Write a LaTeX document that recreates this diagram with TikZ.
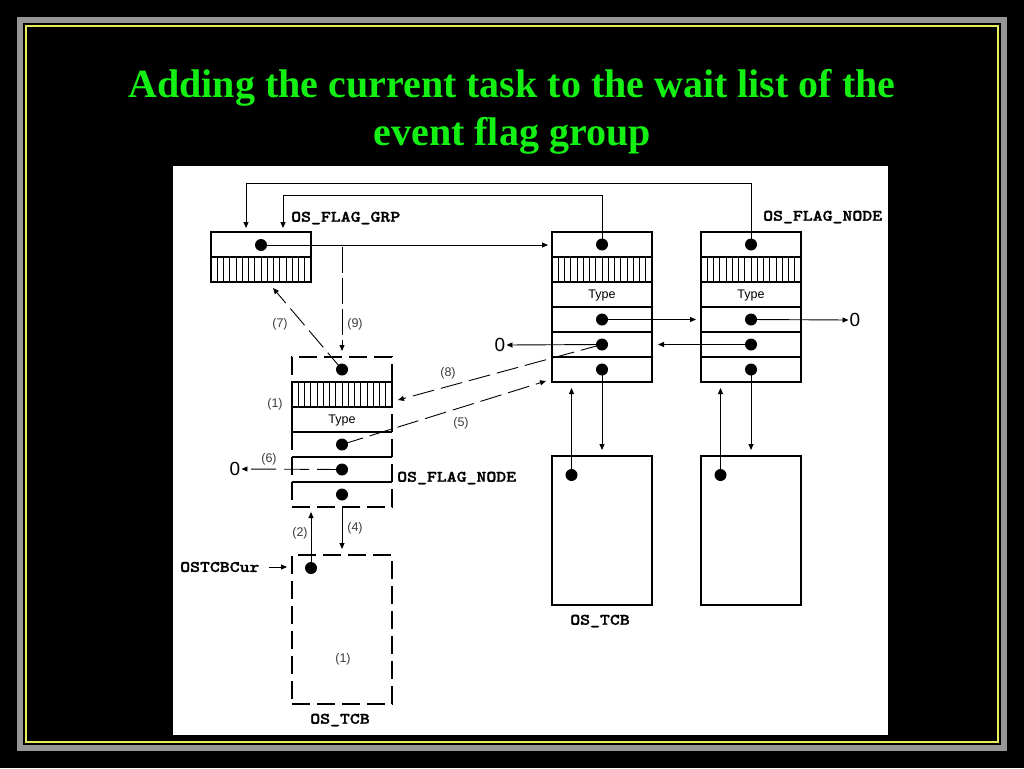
\documentclass[tikz,border=0pt]{standalone}
\usepackage{fontspec}
\setmainfont{Liberation Serif}
\newfontfamily\labfont[FakeStretch=1.18,FakeBold=1.6]{lmmonolt10-bold.otf}
\newfontfamily\sansf{Liberation Sans}
\usetikzlibrary{arrows.meta,calc}
\definecolor{titlegreen}{RGB}{20,240,20}
\definecolor{framegray}{RGB}{150,150,150}
\definecolor{frameyellow}{RGB}{235,235,90}
\definecolor{numgray}{RGB}{60,60,60}
\tikzset{
  box/.style={draw, line width=1.1pt, inner sep=0pt, outer sep=0pt},
  dbox/.style={draw, line width=1.1pt, dash pattern=on 18pt off 7pt, inner sep=0pt, outer sep=0pt},
  dot/.style={circle, fill=black, minimum size=12pt, inner sep=0pt},
  arr/.style={line width=0.9pt, -{Triangle[length=6pt,width=5pt]}},
  darr/.style={line width=0.9pt, dash pattern=on 22pt off 7pt, -{Triangle[length=6pt,width=5pt]}},
  lab/.style={font=\labfont\fontsize{16}{18}\selectfont, inner sep=0pt},
  num/.style={font=\sansf\fontsize{12.5}{14}\selectfont, text=numgray, inner sep=0pt},
  typ/.style={font=\sansf\fontsize{12.5}{14}\selectfont, inner sep=0pt},
  zero/.style={font=\sansf\fontsize{19}{21}\selectfont, inner sep=1pt},
  hatch/.style={line width=0.7pt}
}
\begin{document}
\begin{tikzpicture}[x=1pt,y=-1pt]
% background and frame
\fill[black] (0,0) rectangle (1024,768);
\useasboundingbox (0,0) rectangle (1024,768);
\draw[framegray, line width=6pt] (20,20) rectangle (1004,748);
\draw[frameyellow, line width=1.3pt] (26,26) rectangle (998,742);
\fill[white] (173,166) rectangle (888,735);
% title
\node[anchor=base, font=\bfseries\fontsize{40}{48}\selectfont, text=titlegreen, inner sep=0pt] (t1) at (512,97) {Adding the current task to the wait list of the};
\node[anchor=base, font=\bfseries\fontsize{40}{48}\selectfont, text=titlegreen, inner sep=0pt] (t2) at (512,145) {event flag group};

% ---------- OS_FLAG_GRP ----------
\node[box, minimum width=100pt, minimum height=50pt] (grp) at (261,257) {};
\draw[line width=1.1pt] (211,257) -- (311,257);
\foreach \k in {1,...,15} \draw[hatch] ({211+\k*6.25},257) -- ({211+\k*6.25},282);
\node[dot] (gdot) at (261,245) {};
\node[lab, anchor=west] (lgrp) at (291,218) {OS\_FLAG\_GRP};

% ---------- OS_FLAG_NODE 1 ----------
\node[box, minimum width=100pt, minimum height=150pt] (n1) at (602,307) {};
\foreach \y in {257,282,307,332,357} \draw[line width=1.1pt] (552,\y) -- (652,\y);
\foreach \k in {1,...,15} \draw[hatch] ({552+\k*6.25},257) -- ({552+\k*6.25},282);
\node[typ] (n1t) at (602,295) {Type};
\node[dot] (n1a) at (602,244.5) {};
\node[dot] (n1b) at (602,319.5) {};
\node[dot] (n1c) at (602,344.5) {};
\node[dot] (n1d) at (602,369.5) {};

% ---------- OS_FLAG_NODE 2 ----------
\node[box, minimum width=100pt, minimum height=150pt] (n2) at (751,307) {};
\foreach \y in {257,282,307,332,357} \draw[line width=1.1pt] (701,\y) -- (801,\y);
\foreach \k in {1,...,15} \draw[hatch] ({701+\k*6.25},257) -- ({701+\k*6.25},282);
\node[typ] (n2t) at (751,295) {Type};
\node[dot] (n2a) at (751,244.5) {};
\node[dot] (n2b) at (751,319.5) {};
\node[dot] (n2c) at (751,344.5) {};
\node[dot] (n2d) at (751,369.5) {};
\node[lab, anchor=west] (lnode) at (763,217) {OS\_FLAG\_NODE};

% ---------- dashed OS_FLAG_NODE (current task) ----------
\node[dbox, minimum width=100pt, minimum height=150pt] (dn) at (342,432) {};
\draw[line width=1.1pt] (292,382) rectangle (392,407);
\foreach \k in {1,...,15} \draw[hatch] ({292+\k*6.25},382) -- ({292+\k*6.25},407);
\draw[line width=1.1pt] (292,407) -- (292,432) -- (392,432);
\draw[line width=1.1pt] (292,457) -- (392,457);
\draw[line width=1.1pt] (292,482) -- (392,482);
\node[typ] (dnt) at (342,420) {Type};
\node[dot] (d1) at (342,369.5) {};
\node[dot] (d2) at (342,444.5) {};
\node[dot] (d3) at (342,469.5) {};
\node[dot] (d4) at (342,494.5) {};
\node[lab, anchor=west] (lnode2) at (397,478) {OS\_FLAG\_NODE};

% ---------- TCBs ----------
\node[dbox, minimum width=100pt, minimum height=149pt] (tcb) at (342,629.5) {};
\node[dot] (td) at (311,568) {};
\node[lab] (ltcb) at (340,720) {OS\_TCB};
\node[lab, anchor=west] (cur) at (180,567) {OSTCBCur};
\node[num] (n1l) at (343,659) {(1)};

\node[box, minimum width=100pt, minimum height=149pt] (tc1) at (602,530.5) {};
\node[dot] (tc1d) at (571.5,475) {};
\node[lab] (ltcb1) at (600,621) {OS\_TCB};
\node[box, minimum width=100pt, minimum height=149pt] (tc2) at (751,530.5) {};
\node[dot] (tc2d) at (720.5,475) {};

% ---------- zeros ----------
\node[zero] (z1) at (855,320) {0};
\node[zero] (z2) at (500,345) {0};
\node[zero] (z3) at (235,469) {0};

% ---------- coordinates ----------
\coordinate (c1) at (246,183);
\coordinate (c2) at (283,195);
\coordinate (c9) at (342,247);
\coordinate (c7) at (273,288);
\coordinate (c8) at (398,400);
\coordinate (c5) at (546,381);

% ---------- connectors ----------
\draw[arr, shorten >=4pt] (gdot.center) -- (gdot.center -| n1.west);
\draw[arr, shorten >=4pt] (n2a.center) |- (c1) -- (c1 |- grp.north);
\draw[arr, shorten >=4pt] (n1a.center) |- (c2) -- (c2 |- grp.north);
\draw[arr, shorten >=5pt] (n1b.center) -- (n1b.center -| n2.west);
\draw[arr] (n2b.center) -- (z1.west);
\draw[arr, shorten >=6pt] (n2c.center) -- (n2c.center -| n1.east);
\draw[arr] (n1c.center) -- (z2.east);
\draw[arr, shorten >=6pt] (n1d.center) -- (n1d.center |- tc1.north);
\draw[arr, shorten >=6pt] (tc1d.center) -- (tc1d.center |- n1.south);
\draw[arr, shorten >=6pt] (n2d.center) -- (n2d.center |- tc2.north);
\draw[arr, shorten >=6pt] (tc2d.center) -- (tc2d.center |- n2.south);
% dashed steps
\draw[darr, dash pattern=on 26pt off 5pt, shorten >=6pt] (c9) -- (dn.north);
\draw[darr] (d1.center) -- (c7);
\draw[darr] (n1c.center) -- (c8);
\draw[darr] (d2.center) -- (c5);
\draw[darr, dash pattern=on 25pt off 8pt] (d3.center) -- (z3.east);
\draw[arr, shorten >=5pt] (td.center) -- (td.center |- dn.south);
\draw[arr, shorten >=6pt] (dn.south) -- (tcb.north);
\draw[arr, shorten >=5pt] ([xshift=9pt]cur.east) -- (cur.east -| tcb.west);

% ---------- step numbers ----------
\node[num] (s7) at (280,324) {(7)};
\node[num] (s9) at (355,324) {(9)};
\node[num] (s1) at (275,404) {(1)};
\node[num] (s8) at (448,373) {(8)};
\node[num] (s5) at (461,423) {(5)};
\node[num] (s6) at (269,459) {(6)};
\node[num] (s2) at (300,533) {(2)};
\node[num] (s4) at (355,528) {(4)};
\end{tikzpicture}
\end{document}
